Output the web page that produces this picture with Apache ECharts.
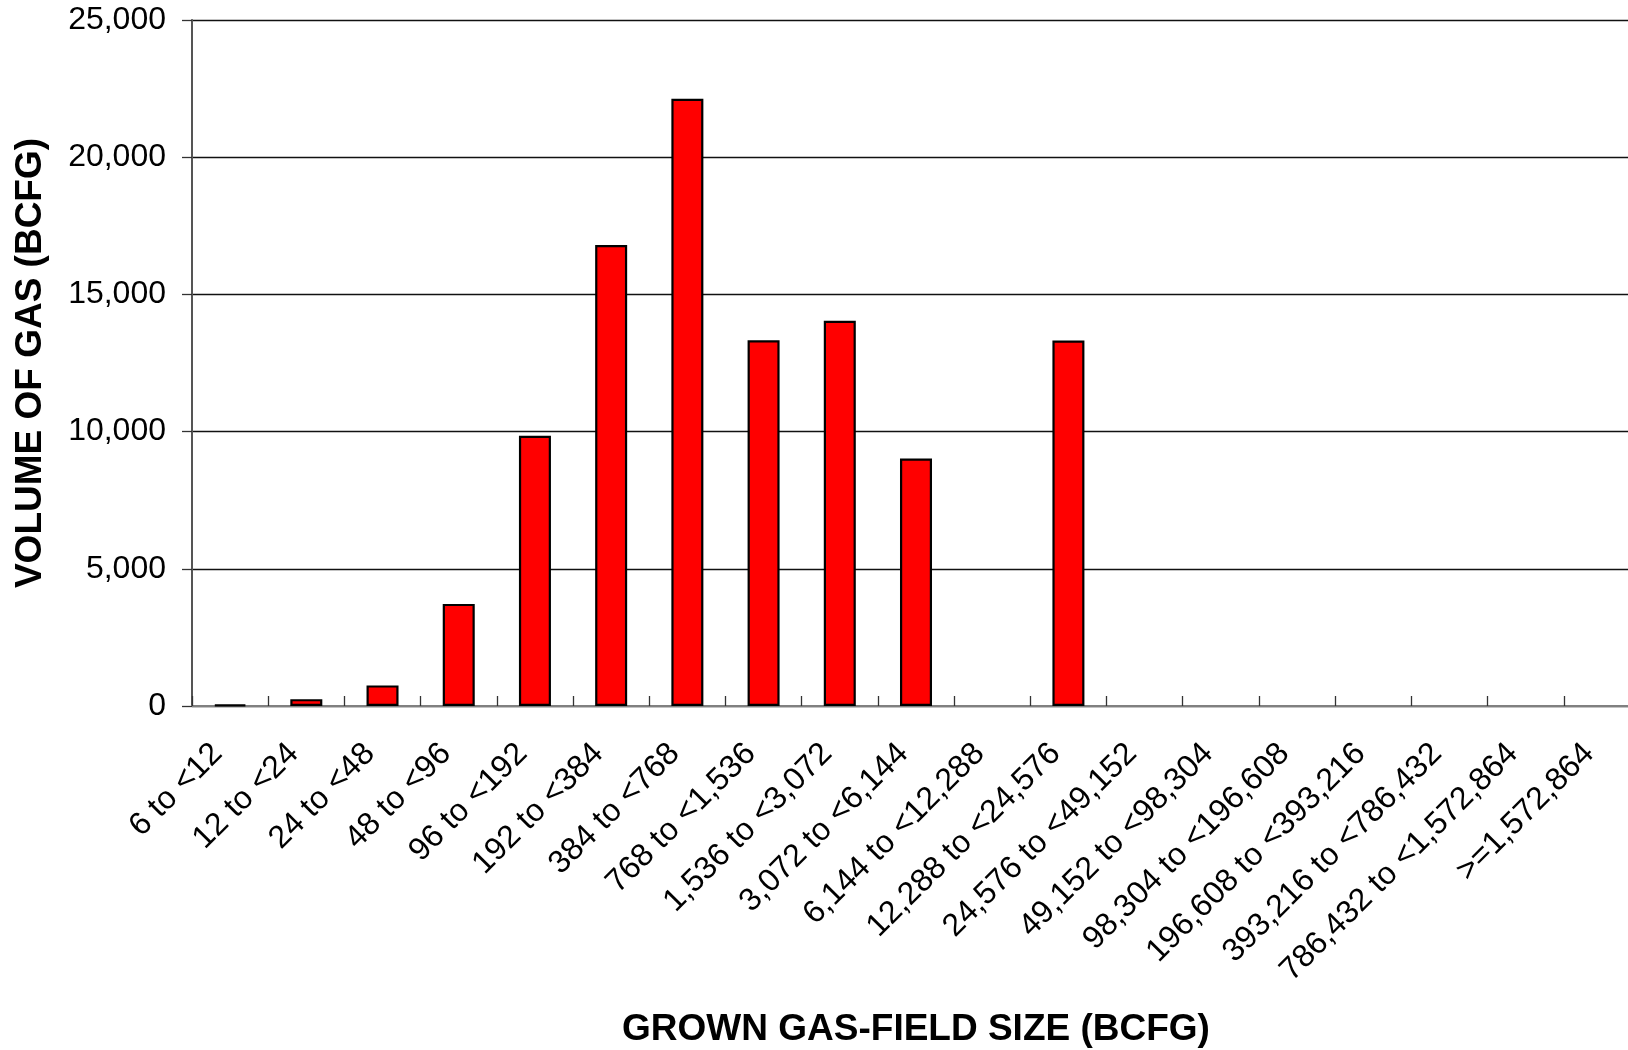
<!DOCTYPE html>
<html>
<head>
<meta charset="utf-8">
<script src="https://cdn.jsdelivr.net/npm/echarts@6/dist/echarts.min.js"></script>
<style>
html,body{margin:0;padding:0;background:#fff;}
#chart{width:1628px;height:1050px;}
</style>
</head>
<body>
<div id="chart"></div>
<script>
const categories = ["6 to <12","12 to <24","24 to <48","48 to <96","96 to <192","192 to <384","384 to <768","768 to <1,536","1,536 to <3,072","3,072 to <6,144","6,144 to <12,288","12,288 to <24,576","24,576 to <49,152","49,152 to <98,304","98,304 to <196,608","196,608 to <393,216","393,216 to <786,432","786,432 to <1,572,864",">=1,572,864"];
const volumes = [50, 250, 750, 3720, 9850, 16800, 22130, 13330, 14040, 9020, 0, 13320, 0, 0, 0, 0, 0, 0, 0];
const yTicks = [0, 5000, 10000, 15000, 20000, 25000];
const xTitle = "GROWN GAS-FIELD SIZE (BCFG)";
const yTitle = "VOLUME OF GAS (BCFG)";

const chart = echarts.init(document.getElementById('chart'), null, {renderer:'canvas'});
const font = "'Liberation Sans', Arial, sans-serif";
chart.setOption({
  animation:false,
  backgroundColor:'#fff',
  grid:{left:192, top:20, right:-12, bottom:344, containLabel:false, outerBoundsMode:'none'},
  xAxis:{
    type:'category',
    data:categories,
    axisLine:{show:true, lineStyle:{color:'#808080', width:2}},
    axisTick:{show:true, inside:true, length:10, alignWithLabel:false, lineStyle:{color:'#333', width:1.3}},
    axisLabel:{rotate:45, interval:0, margin:30, padding:[0,18,0,0], fontFamily:font, fontSize:32, color:'#000'},
    name:xTitle,
    nameLocation:'middle',
    nameGap:305,
    nameTextStyle:{fontFamily:font, fontSize:37, fontWeight:'bold', color:'#000'},
    splitLine:{show:false}
  },
  yAxis:{
    type:'value',
    min:yTicks[0], max:yTicks[yTicks.length-1], interval:5000,
    axisLine:{show:true, lineStyle:{color:'#555', width:2}},
    axisTick:{show:true, inside:false, length:10, lineStyle:{color:'#333', width:1.3}},
    axisLabel:{margin:26, fontFamily:font, fontSize:32, color:'#000',
      formatter:function(v){return v.toLocaleString('en-US');}},
    splitLine:{show:true, lineStyle:{color:'#111', width:1.3}},
    name:yTitle,
    nameLocation:'middle',
    nameGap:143,
    nameRotate:90,
    nameTextStyle:{fontFamily:font, fontSize:37, fontWeight:'bold', color:'#000'}
  },
  series:[{
    type:'bar',
    data:volumes.map(function(v){return v === 0 ? '-' : v;}),
    barWidth:'42%',
    itemStyle:{color:'#ff0000', borderColor:'#000', borderWidth:2.2},
    emphasis:{disabled:true}
  }]
});
</script>
</body>
</html>
